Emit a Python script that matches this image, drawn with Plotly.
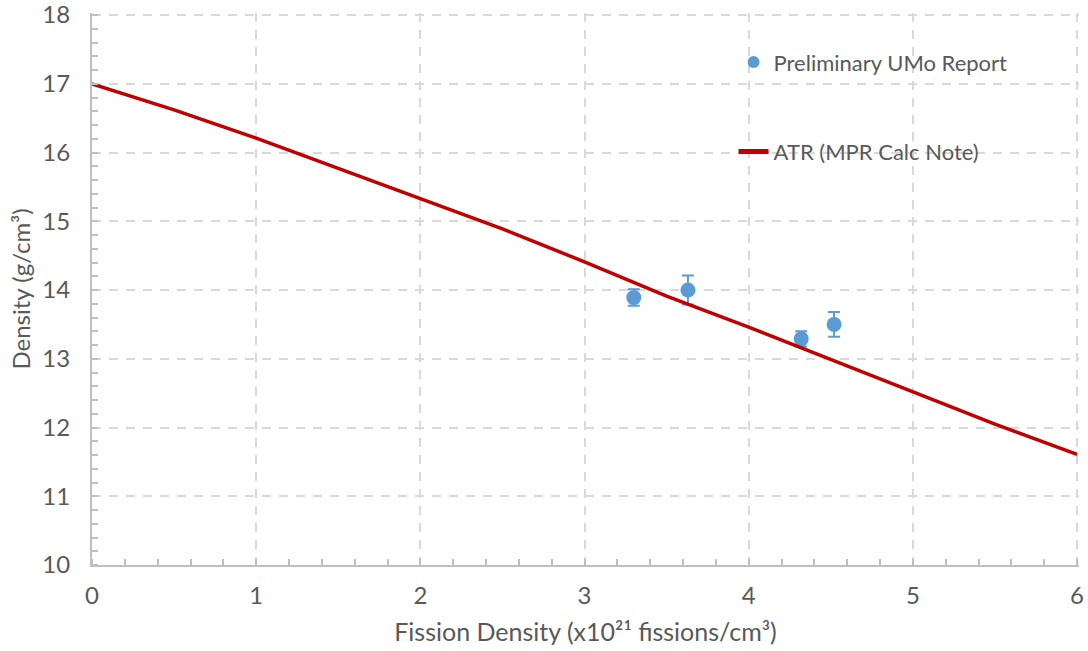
import plotly.graph_objects as go

# ATR (MPR Calc Note) curve
atr_x = [0, 0.5, 1.0, 1.5, 2.0, 2.5, 3.0, 3.5, 4.0, 4.5, 5.0, 5.5, 6.0]
atr_y = [17.00, 16.62, 16.21, 15.77, 15.32, 14.89, 14.41, 13.91, 13.46,
         12.99, 12.52, 12.05, 11.61]

# Preliminary UMo Report measurements
umo_x = [3.30, 3.63, 4.32, 4.52]
umo_y = [13.89, 14.00, 13.29, 13.50]
umo_err = [0.12, 0.21, 0.11, 0.18]

x_ticks = [0, 1, 2, 3, 4, 5, 6]
y_ticks = [10, 11, 12, 13, 14, 15, 16, 17, 18]

FONT = "Lato"
TXT = "#595959"
GRID = "#D9D9D9"
AX = "#BFBFBF"

fig = go.Figure()
fig.add_trace(go.Scatter(
    x=umo_x, y=umo_y, mode="markers", name="Preliminary UMo Report",
    legendgroup="a",
    marker=dict(color="#5B9BD5", size=15),
    error_y=dict(type="data", array=umo_err, visible=True, color="#5B9BD5",
                 thickness=2, width=6),
))
fig.add_trace(go.Scatter(
    x=atr_x, y=atr_y, mode="lines", name="ATR (MPR Calc Note)",
    legendgroup="b",
    line=dict(color="#C00000", width=3.5),
))

fig.add_shape(type="rect", xref="paper", yref="paper",
              x0=0.590, x1=0.975, y0=0.673, y1=0.985,
              fillcolor="white", line=dict(width=0), layer="between")

fig.update_layout(
    width=1088, height=651,
    margin=dict(l=92, r=9, t=13, b=86, autoexpand=False),
    paper_bgcolor="white", plot_bgcolor="white",
    font=dict(family=FONT, color=TXT, size=24),
    legend=dict(x=0.650, y=0.949, xanchor="left", yanchor="top",
                bgcolor="rgba(0,0,0,0)", font=dict(size=22, color=TXT),
                tracegroupgap=58, itemsizing="constant"),
    xaxis=dict(
        range=[0, 6.012], tickvals=x_ticks, showgrid=True, gridcolor=GRID,
        griddash="9px,8px", gridwidth=1.5, zeroline=False,
        showline=True, linecolor=AX, linewidth=2,
        ticks="", ticklabelstandoff=8, ticklabeloverflow="allow",
        minor=dict(dtick=0.2, ticks="inside", ticklen=6, tickcolor=AX,
                   tickwidth=1.5, showgrid=False),
        title=dict(text="Fission Density (x10²¹ fissions/cm³)",
                   font=dict(size=25, color=TXT), standoff=16),
        tickfont=dict(size=24, color=TXT),
    ),
    yaxis=dict(
        range=[10, 18.03], tickvals=y_ticks, showgrid=True, gridcolor=GRID,
        griddash="9px,8px", gridwidth=1.5, zeroline=False,
        showline=True, linecolor=AX, linewidth=2,
        ticks="", ticklabelstandoff=15, ticklabeloverflow="allow",
        minor=dict(dtick=0.2, ticks="inside", ticklen=6, tickcolor=AX,
                   tickwidth=1.5, showgrid=False),
        title=dict(text="Density (g/cm³)", font=dict(size=24, color=TXT),
                   standoff=5),
        tickfont=dict(size=24, color=TXT),
    ),
)

fig.write_html(
    "out.html",
    config={"displayModeBar": False},
    post_script="document.body.style.margin='0';document.body.style.overflow='hidden';",
)
